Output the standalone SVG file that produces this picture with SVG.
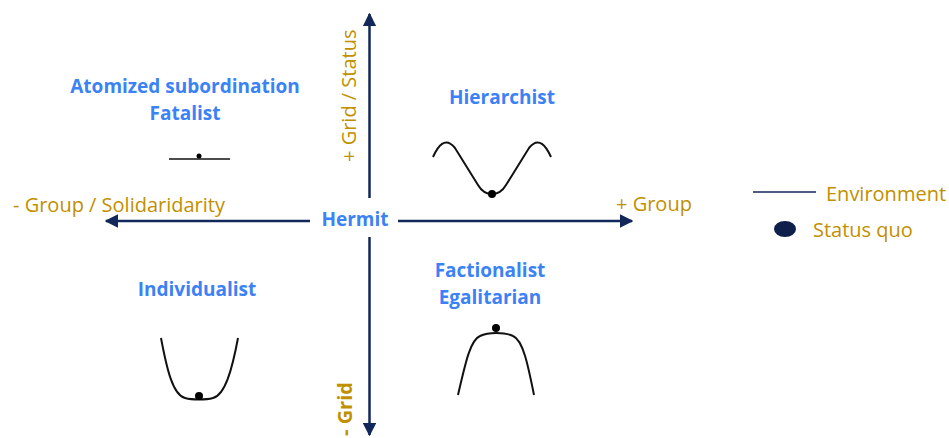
<svg xmlns="http://www.w3.org/2000/svg" width="949" height="438" viewBox="0 0 949 438">
<defs>
<marker id="ah" viewBox="0 0 10 10" refX="9" refY="5" markerWidth="5.5" markerHeight="5.5" orient="auto" markerUnits="strokeWidth">
<path d="M0,0 L10,5 L0,10 z" fill="#13285a"/>
</marker>
</defs>
<style>
.axis{stroke:#13285a;stroke-width:2.5;fill:none}
.lbl{font-family:"Open Sans","Liberation Sans",sans-serif;font-weight:bold;font-size:19px;fill:#3a82f6;text-anchor:middle}
.gold{font-family:"Open Sans","Liberation Sans",sans-serif;font-size:20px;fill:#bf9000}
.curve{stroke:#111;stroke-width:2;fill:none}
.dot{fill:#000}
</style>
<rect width="949" height="438" fill="#fff"/>
<g id="connectors">
<line class="axis" x1="369.5" y1="198" x2="369.5" y2="14" marker-end="url(#ah)"/>
<line class="axis" x1="369.5" y1="237" x2="369.5" y2="435" marker-end="url(#ah)"/>
<line class="axis" x1="310" y1="221" x2="106" y2="221" marker-end="url(#ah)"/>
<line class="axis" x1="398" y1="221" x2="632" y2="221" marker-end="url(#ah)"/>
</g>
<g id="hermit"><text class="lbl" x="355" y="226">Hermit</text></g>
<g id="axis-labels">
<text class="gold" x="13" y="212">- Group / Solidaridarity</text>
<text class="gold" x="616" y="211">+ Group</text>
<text class="gold" transform="translate(356,162) rotate(-90)">+ Grid / Status</text>
<text class="gold" font-weight="bold" font-size="19" transform="translate(352,436) rotate(-90)">- Grid</text>
</g>
<g id="fatalist">
<text class="lbl" x="185" y="93">Atomized subordination</text>
<text class="lbl" x="185" y="120">Fatalist</text>
<line x1="169" y1="159" x2="230" y2="159" stroke="#111" stroke-width="1.5"/>
<circle class="dot" cx="199" cy="156" r="2.5"/>
</g>
<g id="hierarchist">
<text class="lbl" x="502" y="104">Hierarchist</text>
<path class="curve" d="M433,157 C438,146 445,136 455,148 L478,185 C485,197 499,197 506,185 L529,148 C539,136 546,146 551,157"/>
<circle class="dot" cx="492" cy="194" r="4"/>
</g>
<g id="individualist">
<text class="lbl" x="197" y="296">Individualist</text>
<path class="curve" d="M161,338 C167,370 173,395 185,398 C192,400 206,400 213,398 C225,395 232,370 238,338"/>
<circle class="dot" cx="199" cy="396" r="4"/>
</g>
<g id="factionalist">
<text class="lbl" x="490" y="277">Factionalist</text>
<text class="lbl" x="490" y="304">Egalitarian</text>
<path class="curve" d="M458,395 C465,365 470,340 480,336 C488,332 505,332 513,336 C523,340 528,365 534,395"/>
<circle class="dot" cx="496" cy="328" r="4"/>
</g>
<g id="legend">
<line x1="753" y1="192" x2="816" y2="192" stroke="#13285a" stroke-width="1.5"/>
<text class="gold" x="826" y="201">Environment</text>
<ellipse cx="785" cy="229" rx="11" ry="8" fill="#0d1f4a"/>
<text class="gold" x="813" y="237">Status quo</text>
</g>
</svg>
